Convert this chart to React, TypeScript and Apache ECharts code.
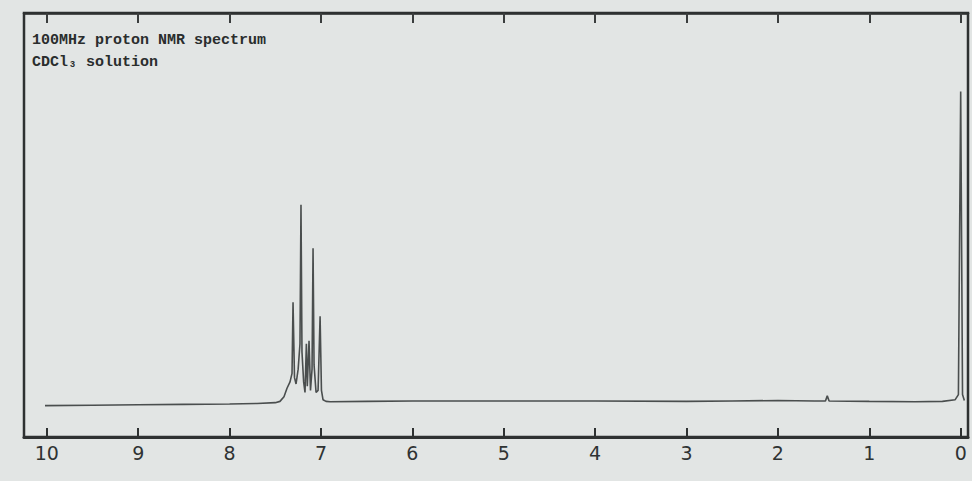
import React, { useEffect, useRef } from "react";
import * as echarts from "echarts";

// Chemical-shift tick labels (ppm)
const ppmTicks: number[] = [10, 9, 8, 7, 6, 5, 4, 3, 2, 1, 0];

// Spectrum trace: [ppm, intensity (% of frame height)]
const baselineLeft: [number, number][] = [
  [10.02, 7.4], [9.5, 7.5], [9.0, 7.6], [8.5, 7.7], [8.0, 7.8], [7.7, 7.9], [7.5, 8.1],
];
const aromaticMultiplet: [number, number][] = [
  [7.449, 8.4], [7.405, 9.5], [7.372, 11.5], [7.339, 13], [7.317, 15], [7.306, 31.8],
  [7.29, 14], [7.273, 12.5], [7.25, 16], [7.23, 22], [7.219, 54.8], [7.208, 20],
  [7.19, 13], [7.175, 10.5], [7.16, 22], [7.15, 12], [7.131, 22.7], [7.115, 11],
  [7.098, 16], [7.087, 44.5], [7.076, 17], [7.054, 10.5], [7.032, 11], [7.01, 28.5],
  [6.995, 11], [6.978, 8.8], [6.945, 8.4],
];
const baselineRight: [number, number][] = [
  [6.9, 8.3], [6.5, 8.4], [6.0, 8.5], [5.0, 8.5], [4.0, 8.5], [3.0, 8.4], [2.5, 8.5],
  [2.0, 8.6], [1.6, 8.5], [1.48, 8.5], [1.46, 9.7], [1.44, 8.5], [1.0, 8.4],
  [0.5, 8.3], [0.2, 8.4], [0.06, 8.8], [0.025, 10],
];
const tmsPeak: [number, number][] = [
  [0.0, 81.5], [-0.02, 10], [-0.04, 8.6],
];

const spectrum = [...baselineLeft, ...aromaticMultiplet, ...baselineRight, ...tmsPeak];

const titleLine1 = "100MHz proton NMR spectrum";
const titleLine2 = "CDCl\u2083 solution";

export default function App() {
  const ref = useRef<HTMLDivElement>(null);
  useEffect(() => {
    if (!ref.current) return;
    const chart = echarts.init(ref.current, null, { renderer: "svg" });
    const ink = "#2e3131";
    chart.setOption({
      animation: false,
      backgroundColor: "#e2e5e4",
      grid: {
        left: 24,
        right: 4,
        top: 13,
        bottom: 44,
        show: true,
        borderColor: ink,
        borderWidth: 2.5,
        backgroundColor: "transparent",
      },
      xAxis: [
        {
          type: "value",
          inverse: true,
          min: -0.08,
          max: 10.25,
          position: "bottom",
          axisLine: { show: true, onZero: false, lineStyle: { color: ink, width: 3 } },
          axisTick: {
            show: true,
            inside: true,
            length: 9,
            customValues: ppmTicks,
            lineStyle: { color: ink, width: 2 },
          },
          axisLabel: {
            show: true,
            customValues: ppmTicks,
            margin: 6,
            color: "#2f3333",
            fontSize: 19,
            fontFamily: "DejaVu Sans",
          },
          splitLine: { show: false },
        },
        {
          type: "value",
          inverse: true,
          min: -0.08,
          max: 10.25,
          position: "top",
          axisLine: { show: true, onZero: false, lineStyle: { color: ink, width: 2.5 } },
          axisTick: {
            show: true,
            inside: true,
            length: 10,
            customValues: ppmTicks,
            lineStyle: { color: "#3a3d3d", width: 2 },
          },
          axisLabel: {
            show: true,
            customValues: ppmTicks,
            formatter: () => "",
          },
          splitLine: { show: false },
        },
      ],
      yAxis: {
        type: "value",
        min: 0,
        max: 100,
        show: true,
        axisLine: { show: false },
        axisTick: { show: false },
        axisLabel: { show: false },
        splitLine: { show: false },
      },
      graphic: [
        {
          type: "text",
          left: 32,
          top: 33,
          style: {
            text: titleLine1,
            fill: "#2a2d2d",
            font: "bold 15px 'Liberation Mono', 'DejaVu Sans Mono', monospace",
          },
        },
        {
          type: "text",
          left: 32,
          top: 55,
          style: {
            text: titleLine2,
            fill: "#2a2d2d",
            font: "bold 15px 'Liberation Mono', 'DejaVu Sans Mono', monospace",
          },
        },
      ],
      series: [
        {
          type: "line",
          xAxisIndex: 0,
          data: spectrum,
          showSymbol: false,
          symbol: "none",
          lineStyle: { color: "#4a4e4e", width: 1.6 },
          silent: true,
        },
      ],
    });
    return () => chart.dispose();
  }, []);
  return (
    <div
      ref={ref}
      style={{ position: "fixed", left: 0, top: 0, width: 972, height: 481 }}
    />
  );
}
